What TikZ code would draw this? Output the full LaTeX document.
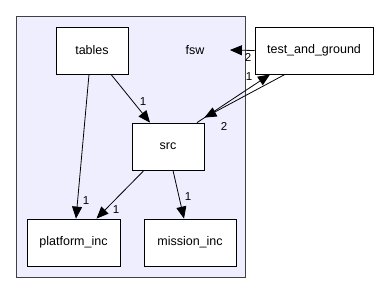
\documentclass[tikz,border=0pt]{standalone}
\usepackage{fontspec}
\setmainfont{Liberation Sans}
\usetikzlibrary{arrows.meta, positioning}

\tikzset{
  dirbox/.style={draw=black, fill=white, line width=0.8pt, minimum width=72pt,
    minimum height=47pt, inner sep=0pt, font=\fontsize{12.5}{14}\selectfont},
  dep/.style={draw=black, line width=0.8pt, -{Triangle[length=12pt,width=10pt]}},
  cnt/.style={font=\fontsize{11.5}{13}\selectfont, inner sep=0pt}
}

\begin{document}
\begin{tikzpicture}[x=1pt,y=-1pt]
        \useasboundingbox (0,0) rectangle (379,293);
        % Cluster around the fsw folder
        \draw[fill={rgb,255:red,238;green,238;blue,255}, draw={rgb,255:red,64;green,64;blue,64}, line width=1pt]
          (16,16) rectangle (245,277);
        \node[font=\fontsize{12.5}{14}\selectfont] (fsw) at (195,50) {fsw};
        % Folders
        \node[dirbox] (tables) at (92,50.5) {tables};
        \node[dirbox, minimum width=118pt] (tg) at (314,50.5) {test\_and\_ground};
        \node[dirbox] (src) at (168,146.5) {src};
        \node[dirbox, minimum width=93pt] (plat) at (73.5,242.5) {platform\_inc};
        \node[dirbox, minimum width=92pt] (miss) at (190,242.5) {mission\_inc};
        % Dependencies
        \draw[dep] (tg.west) -- ([xshift=22pt]fsw.east);
        \node[cnt] at (248,57) {2};
        \draw[dep] ([xshift=29pt]src.north) -- ([xshift=-44pt]tg.south);
        \node[cnt] at (249,77) {1};
        \draw[dep] ([xshift=-29pt]tg.south) -- ([yshift=5pt]src.north east);
        \node[cnt] at (224,126) {2};
        \draw[dep] ([xshift=19pt]tables.south) -- ([xshift=-18pt]src.north);
        \node[cnt] at (143,102) {1};
        \draw[dep] ([xshift=-3pt]tables.south) -- ([xshift=2.5pt]plat.north);
        \node[cnt] at (86,201) {1};
        \draw[dep] ([xshift=-24pt]src.south) -- ([xshift=23pt]plat.north);
        \node[cnt] at (116,210) {1};
        \draw[dep] ([xshift=5pt]src.south) -- ([xshift=-6pt]miss.north);
        \node[cnt] at (188,197) {1};
\end{tikzpicture}
\end{document}
